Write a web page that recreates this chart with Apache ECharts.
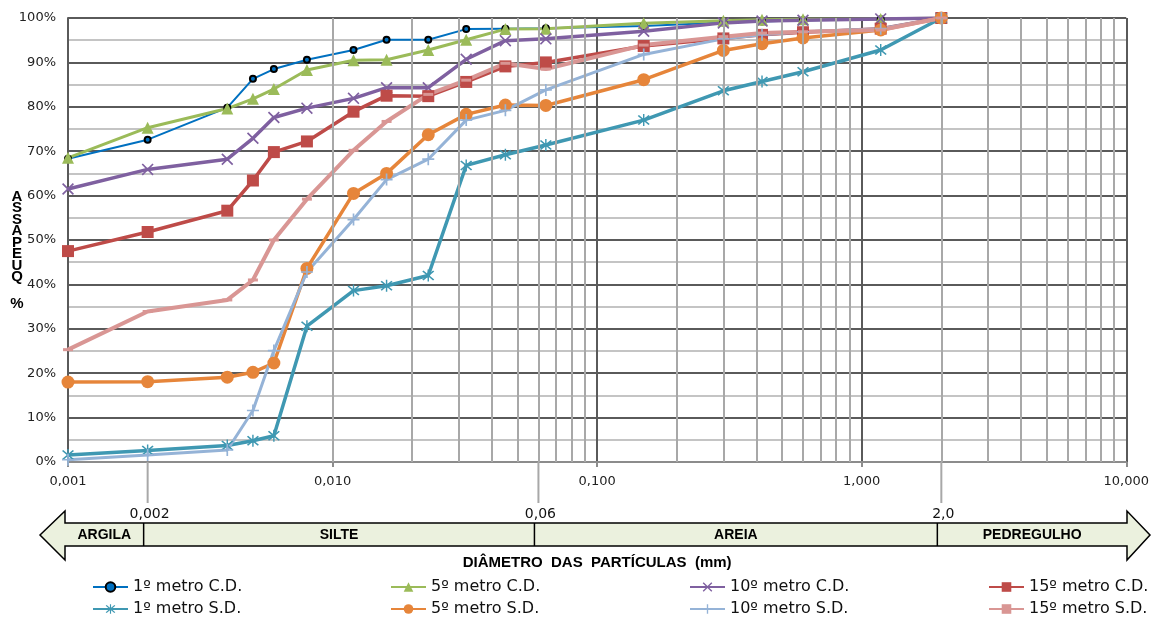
<!DOCTYPE html>
<html>
<head>
<meta charset="utf-8">
<title>Curvas granulométricas</title>
<script src="https://cdn.jsdelivr.net/npm/echarts@6.0.0/dist/echarts.min.js"></script>
<style>
    html, body { margin: 0; padding: 0; background: #fff; }
    #main { width: 1152px; height: 619px; }
</style>
</head>
<body>
<div id="main"></div>
<script>
// diâmetros das partículas (mm)
var diametros = [0.001, 0.002, 0.004, 0.005, 0.006, 0.008, 0.012, 0.016, 0.023, 0.032, 0.045, 0.064, 0.15, 0.3, 0.42, 0.6, 1.18, 2.0];

// % que passa - com defloculante (C.D.)
var cd1 = [68.3, 72.6, 79.8, 86.3, 88.5, 90.6, 92.8, 95.1, 95.1, 97.5, 97.6, 97.7, 98.2, 99.0, 99.2, 99.5, 99.7, 100];
var cd5 = [68.5, 75.3, 79.6, 81.8, 84.0, 88.3, 90.5, 90.6, 92.8, 95.1, 97.5, 97.6, 98.8, 99.4, 99.6, 99.7, 99.8, 100];
var cd10 = [61.5, 65.9, 68.2, 72.9, 77.6, 79.7, 81.9, 84.3, 84.3, 90.7, 94.9, 95.3, 97.0, 98.9, 99.3, 99.5, 99.8, 100];
var cd15 = [47.5, 51.8, 56.6, 63.4, 69.8, 72.2, 78.9, 82.5, 82.4, 85.6, 89.1, 90.0, 93.7, 95.4, 96.2, 96.8, 97.6, 100];

// % que passa - sem defloculante (S.D.)
var sd1 = [1.6, 2.6, 3.7, 4.8, 5.9, 30.6, 38.6, 39.7, 42.0, 66.8, 69.2, 71.4, 77.0, 83.6, 85.7, 87.9, 92.8, 100];
var sd5 = [18.0, 18.1, 19.1, 20.2, 22.3, 43.6, 60.5, 65.0, 73.7, 78.3, 80.4, 80.3, 86.1, 92.7, 94.2, 95.5, 97.3, 100];
var sd10 = [0.5, 1.6, 2.7, 11.6, 25.1, 42.8, 54.6, 63.6, 68.2, 77.0, 79.2, 83.8, 91.8, 95.3, 96.2, 96.9, 97.6, 100];
var sd15 = [25.3, 33.9, 36.5, 41.0, 50.0, 59.2, 70.2, 76.7, 82.8, 86.0, 89.8, 88.5, 93.9, 95.8, 96.6, 96.9, 97.3, 100];

var nomes = ['1º metro C.D.', '5º metro C.D.', '10º metro C.D.', '15º metro C.D.',
             '1º metro S.D.', '5º metro S.D.', '10º metro S.D.', '15º metro S.D.'];

// limites das classes (ARGILA | SILTE | AREIA | PEDREGULHO)
var limites = [0.002, 0.06, 2.0];
var limitesTexto = ['0,002', '0,06', '2,0'];
var classes = ['ARGILA', 'SILTE', 'AREIA', 'PEDREGULHO'];

// simbolos
var simX = 'path://M1,0 L5,4 L9,0 L10,1 L6,5 L10,9 L9,10 L5,6 L1,10 L0,9 L4,5 L0,1 Z';
var simMais = 'path://M4.3,0 L5.7,0 L5.7,4.3 L10,4.3 L10,5.7 L5.7,5.7 L5.7,10 L4.3,10 L4.3,5.7 L0,5.7 L0,4.3 L4.3,4.3 Z';
var simAst = 'path://M1,0 L5,4 L9,0 L10,1 L6,5 L10,9 L9,10 L5,6 L1,10 L0,9 L4,5 L0,1 Z M4.4,-1 L5.6,-1 L5.6,11 L4.4,11 Z';

function pares(ys) {
    var r = [];
    for (var i = 0; i < diametros.length; i++) r.push([diametros[i], ys[i]]);
    return r;
}

function serie(nome, ys, cor, largura, simbolo, tam, extra) {
    var s = {
        name: nome,
        type: 'line',
        data: pares(ys),
        symbol: simbolo,
        symbolSize: tam,
        showAllSymbol: true,
        lineStyle: { color: cor, width: largura },
        itemStyle: { color: cor },
        z: 3
    };
    if (extra) for (var k in extra) s[k] = extra[k];
    return s;
}

// linhas de grade secundarias (2..9 de cada decada)
var gradeMenor = [];
[0.001, 0.01, 0.1, 1].forEach(function (d) {
    for (var k = 2; k <= 9; k++) gradeMenor.push({ xAxis: +(d * k).toPrecision(3) });
});

var fonte = 'DejaVu Sans';

var legendas = [];
var colunas = [92, 390, 689, 988];
for (var i = 0; i < nomes.length; i++) {
    legendas.push({
        data: [nomes[i]],
        left: colunas[i % 4],
        top: i < 4 ? 579 : 601,
        padding: 0,
        itemWidth: 35,
        itemHeight: 12,
        itemGap: 3,
        textStyle: { fontFamily: fonte, fontSize: 16, color: '#111' }
    });
}

var myChart = echarts.init(document.getElementById('main'));

var option = {
    animation: false,
    backgroundColor: '#fff',
    grid: { left: 68, right: 23, top: 18, bottom: 157, containLabel: false },
    legend: legendas,
    xAxis: {
        type: 'log',
        logBase: 10,
        min: 0.001,
        max: 10,
        name: 'DIÂMETRO  DAS  PARTÍCULAS  (mm)',
        nameLocation: 'middle',
        nameGap: 93,
        nameTextStyle: { fontFamily: 'Liberation Sans', fontWeight: 'bold', fontSize: 15, color: '#000' },
        axisLine: { show: true, lineStyle: { color: '#8c8c8c', width: 2 } },
        axisTick: { show: true, length: 5, lineStyle: { color: '#8c8c8c', width: 2 } },
        axisLabel: {
            margin: 13,
            fontFamily: fonte,
            fontSize: 13,
            color: '#222',
            formatter: function (v) { return v.toFixed(3).replace('.', ','); }
        },
        splitLine: { show: true, lineStyle: { color: '#5a5a5a', width: 2 } }
    },
    yAxis: {
        type: 'value',
        min: 0,
        max: 100,
        interval: 10,
        axisLine: { show: true, lineStyle: { color: '#5a5a5a', width: 2 } },
        axisTick: { show: false },
        axisLabel: { margin: 12, fontFamily: fonte, fontSize: 13, color: '#222', formatter: '{value}%' },
        splitLine: { show: true, lineStyle: { color: '#5a5a5a', width: 2 } },
        minorTick: { show: false, splitNumber: 2 },
        minorSplitLine: { show: true, lineStyle: { color: '#c4c4c4', width: 2 } }
    },
    series: [
        {
            name: 'grade',
            type: 'line',
            data: [],
            silent: true,
            z: 1,
            markLine: {
                silent: true,
                symbol: ['none', 'none'],
                label: { show: false },
                lineStyle: { color: '#a8a8a8', width: 2, type: 'solid' },
                data: gradeMenor
            }
        },
        serie(nomes[0], cd1, '#0070C0', 2, 'circle', 6, { itemStyle: { color: '#0070C0', borderColor: '#000', borderWidth: 2 } }),
        serie(nomes[1], cd5, '#9BBB59', 3, 'triangle', 12),
        serie(nomes[2], cd10, '#7F60A0', 3.5, simX, 12),
        serie(nomes[3], cd15, '#BE4B48', 3.5, 'rect', 12),
        serie(nomes[4], sd1, '#3F98B2', 3.5, simAst, 12),
        serie(nomes[5], sd5, '#E6853A', 3.5, 'circle', 13),
        serie(nomes[6], sd10, '#95B3D7', 3, simMais, 12),
        serie(nomes[7], sd15, '#D99694', 4, 'rect', [10, 3])
    ]
};

myChart.setOption(option);

// seta de classificação abaixo do eixo, posicionada pela escala do eixo x
function desenhaSeta() {
    var g = [];
    var yTop = 523, yBot = 546, yMid = 535;
    var xl = 40, xlh = 65, xr = 1150, xrh = 1127;

    g.push({
        type: 'polygon',
        shape: { points: [[xl, yMid], [xlh, 511], [xlh, yTop], [xrh, yTop], [xrh, 511], [xr, yMid],
                          [xrh, 560], [xrh, yBot], [xlh, yBot], [xlh, 560]] },
        style: { fill: '#EBF1DE', stroke: '#000', lineWidth: 1.5 },
        z: 10
    });

    var px = limites.map(function (v) { return myChart.convertToPixel({ xAxisIndex: 0 }, v); });
    var yEixo = myChart.convertToPixel({ yAxisIndex: 0 }, 0);

    for (var i = 0; i < px.length; i++) {
        // prolongamento da linha de grade abaixo do eixo
        g.push({
            type: 'line',
            shape: { x1: px[i], y1: yEixo, x2: px[i], y2: 503 },
            style: { stroke: '#a8a8a8', lineWidth: 2 },
            z: 9
        });
        // divisoria dentro da seta
        g.push({
            type: 'line',
            shape: { x1: px[i] - 4, y1: yTop, x2: px[i] - 4, y2: yBot },
            style: { stroke: '#000', lineWidth: 1.5 },
            z: 11
        });
        g.push({
            type: 'text',
            x: px[i] + 2,
            y: 514,
            style: { text: limitesTexto[i], fill: '#111', font: '14px "DejaVu Sans"', align: 'center', verticalAlign: 'middle' },
            z: 11
        });
    }

    var bordas = [xlh, px[0] - 4, px[1] - 4, px[2] - 4, xrh];
    for (var j = 0; j < classes.length; j++) {
        g.push({
            type: 'text',
            x: (bordas[j] + bordas[j + 1]) / 2,
            y: yMid,
            style: { text: classes[j], fill: '#000', font: 'bold 14px "Liberation Sans"', align: 'center', verticalAlign: 'middle' },
            z: 12
        });
    }

    // titulo do eixo y (letras empilhadas)
    g.push({
        type: 'text',
        x: 17,
        y: 191,
        style: { text: 'A\nS\nS\nA\nP\nE\nU\nQ', fill: '#000', font: 'bold 15px "Liberation Sans"', align: 'center', verticalAlign: 'top', lineHeight: 11.5 },
        z: 12
    });
    g.push({
        type: 'text',
        x: 17,
        y: 304,
        style: { text: '%', fill: '#000', font: 'bold 15px "Liberation Sans"', align: 'center', verticalAlign: 'middle' },
        z: 12
    });

    myChart.setOption({ graphic: g });
}

desenhaSeta();
</script>
</body>
</html>
